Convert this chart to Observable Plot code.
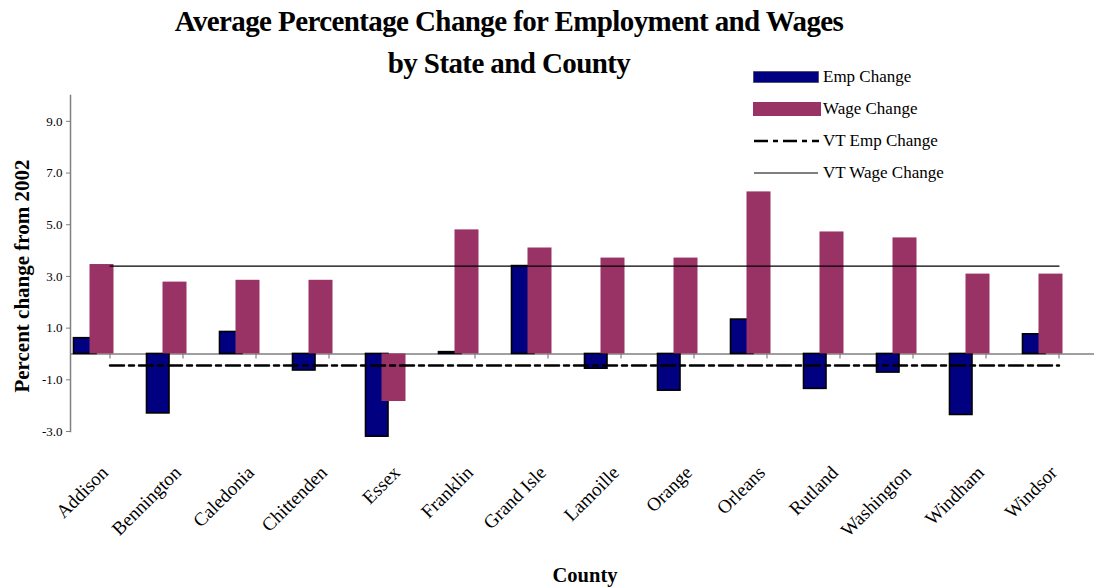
<!DOCTYPE html>
<html>
<head>
<meta charset="utf-8">
<script src="https://cdn.jsdelivr.net/npm/d3@7"></script>
<script src="https://cdn.jsdelivr.net/npm/@observablehq/plot@0.6"></script>
<style>
  body { margin: 0; background: #fff; font-family: "Liberation Serif", "Times New Roman", serif; }
  #wrap { position: relative; width: 1094px; height: 588px; overflow: hidden; background: #fff; }
  #title { height: 84px; width: 1018px; text-align: center; font-weight: bold; font-size: 29px;
           line-height: 42px; letter-spacing: -0.6px; color: #000; }
  #ylabel { position: absolute; left: 22px; top: 276px; transform: translate(-50%, -50%) rotate(-90deg);
            white-space: nowrap; font-weight: bold; font-size: 21px; color: #000; }
  #xlabel { position: absolute; left: 585px; top: 575px; transform: translate(-50%, -50%);
            white-space: nowrap; font-weight: bold; font-size: 20.5px; color: #000; }
  #legend { position: absolute; left: 753px; top: 61px; }
  .lrow { display: flex; align-items: center; height: 32px; }
  .lrow svg { display: block; margin-right: 2px; }
  .lrow span { font-size: 17px; color: #000; white-space: nowrap; }
  #chart svg { display: block; }
</style>
</head>
<body>
<div id="wrap">
  <div id="title">Average Percentage Change for Employment and Wages<br>by State and County</div>
  <div id="chart"></div>
  <div id="ylabel">Percent change from 2002</div>
  <div id="xlabel">County</div>
  <div id="legend"></div>
</div>
<script>
// ---- data ----
const counties = ["Addison", "Bennington", "Caledonia", "Chittenden", "Essex", "Franklin", "Grand Isle",
                  "Lamoille", "Orange", "Orleans", "Rutland", "Washington", "Windham", "Windsor"];
const empChange  = [0.61, -2.30, 0.85, -0.64, -3.20, 0.07, 3.40, -0.57, -1.42, 1.33, -1.35, -0.72, -2.36, 0.76];
const wageChange = [3.46, 2.78, 2.85, 2.85, -1.84, 4.80, 4.10, 3.71, 3.71, 6.27, 4.72, 4.49, 3.09, 3.09];
const vtEmpChange = -0.45;
const vtWageChange = 3.40;
const yTicks = [-3, -1, 1, 3, 5, 7, 9];
const seriesNames = ["Emp Change", "Wage Change", "VT Emp Change", "VT Wage Change"];

// ---- styles ----
const empColor = "#000080";
const wageColor = "#993366";
const axisGray = "#808080";
const dashDot = "14,5,5,5";

const rows = counties.map((c, i) => ({county: c, emp: empChange[i], wage: wageChange[i]}));

const chart = Plot.plot({
  width: 1094,
  height: 504,
  marginTop: 11,
  marginBottom: 157,
  marginLeft: 70,
  marginRight: 0,
  style: {fontFamily: "'Liberation Serif', 'Times New Roman', serif", background: "#fff", color: "#000"},
  x: {type: "band", domain: counties, range: [70, 1098.5], padding: 0, axis: null},
  y: {domain: [-3, 10]},
  marks: [
    Plot.frame({anchor: "left", stroke: axisGray, strokeWidth: 1.5}),
    Plot.axisY({ticks: yTicks, tickFormat: d => d.toFixed(1), tickSize: 4, tickPadding: 4,
                fontSize: 13, stroke: axisGray, label: null}),
    Plot.ruleY([0], {stroke: axisGray, strokeWidth: 1.5}),
    Plot.ruleX(counties, {x: d => d, y1: () => 0, y2: () => 0, insetBottom: -5, stroke: axisGray, strokeWidth: 1.2}),
    Plot.barY(rows, {x: "county", y: "emp", fill: empColor, stroke: "#000", strokeWidth: 1.6,
                     insetLeft: 0.5, insetRight: 50}),
    Plot.barY(rows, {x: "county", y: "wage", fill: wageColor, insetLeft: 16.5, insetRight: 32.5}),
    Plot.lineY(counties, {x: d => d, y: () => vtWageChange, stroke: "#000", strokeWidth: 1.3}),
    Plot.lineY(counties, {x: d => d, y: () => vtEmpChange, stroke: "#000", strokeWidth: 2.5,
                          strokeDasharray: dashDot}),
    Plot.text(counties, {x: d => d, frameAnchor: "bottom", rotate: -45, textAnchor: "end",
                         lineAnchor: "middle", dx: -5, dy: 38, fontSize: 19, fill: "#000"})
  ]
});
document.getElementById("chart").appendChild(chart);

// ---- legend ----
const legend = d3.select("#legend");
const swatches = [
  s => s.append("rect").attr("x", 0.5).attr("y", 10.5).attr("width", 65).attr("height", 11)
        .attr("fill", empColor).attr("stroke", "#222").attr("stroke-dasharray", "1,1"),
  s => s.append("rect").attr("x", 0).attr("y", 9).attr("width", 68).attr("height", 14).attr("fill", wageColor),
  s => s.append("line").attr("x1", 1).attr("x2", 66).attr("y1", 16).attr("y2", 16)
        .attr("stroke", "#000").attr("stroke-width", 2.5).attr("stroke-dasharray", dashDot),
  s => s.append("line").attr("x1", 1).attr("x2", 65).attr("y1", 16).attr("y2", 16)
        .attr("stroke", "#000").attr("stroke-width", 1.2)
];
seriesNames.forEach((name, i) => {
  const row = legend.append("div").attr("class", "lrow");
  const svg = row.append("svg").attr("width", 68).attr("height", 32);
  swatches[i](svg);
  row.append("span").text(name);
});
</script>
</body>
</html>
